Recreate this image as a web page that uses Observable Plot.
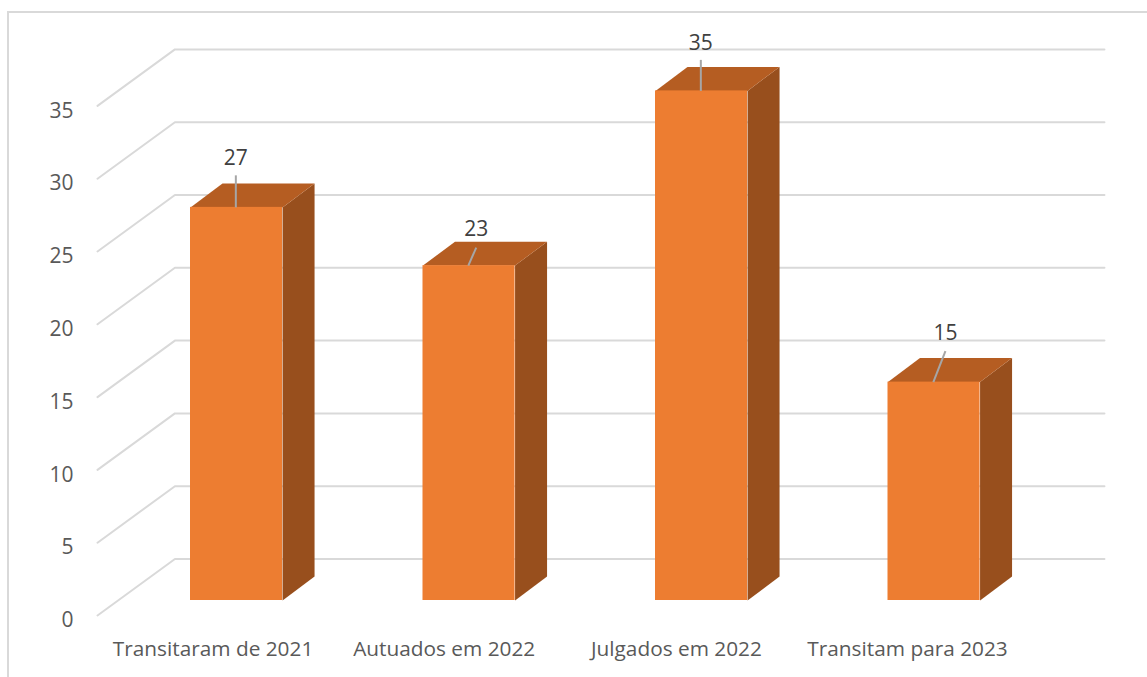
<!DOCTYPE html>
<html>
<head>
<meta charset="utf-8">
<script src="https://cdn.jsdelivr.net/npm/d3@7"></script>
<script src="https://cdn.jsdelivr.net/npm/@observablehq/plot@0.6"></script>
<style>
html,body{margin:0;padding:0;background:#fff;overflow:hidden}
#wrap{position:relative;width:1147px;height:677px}
#border{position:absolute;left:7px;top:11px;right:0;bottom:0;border-top:2px solid #d9d9d9;border-left:2px solid #d9d9d9}
#chart{position:absolute;left:0;top:0}
svg{background:transparent!important}
</style>
</head>
<body>
<div id="wrap"><div id="border"></div><div id="chart"></div></div>
<script>
const categories = ["Transitaram de 2021","Autuados em 2022","Julgados em 2022","Transitam para 2023"];
const values = [27,23,35,15];
const yTicks = [0,5,10,15,20,25,30,35];

// projection of the 3D box, in scale units (category bands, chart values)
const barLeft = 0.4, barRight = 0.796, depthX = 0.1376, depthY = 1.647;
const floorFront = -1.03, floorBack = 2.85, wallStart = 0.333, wallEnd = 4.331;
const leaderBase = 0.595;
const leaderShiftX = [0,0.034,0,0.052], leaderLen = [2.2,1.24,2.13,2.13], labelLift = [3.36,2.47,3.29,3.33];
const categoryOffset = [0.497,0.491,0.49,0.484];

const rows = values.map((v,i)=>({i,v,name:categories[i]}));
const grid = yTicks.flatMap(t=>[
  {t,x:0,y:t+floorFront},{t,x:wallStart,y:t+floorBack},{t,x:wallEnd,y:t+floorBack}
]);
const side = rows.flatMap(d=>{
  const a=d.i+barRight,b=a+depthX;
  return [{i:d.i,x:a,y:0},{i:d.i,x:b,y:depthY},{i:d.i,x:b,y:d.v+depthY},{i:d.i,x:a,y:d.v}];
});
const top_ = rows.flatMap(d=>{
  const l=d.i+barLeft,r=d.i+barRight;
  return [{i:d.i,x:l,y:d.v},{i:d.i,x:r,y:d.v},{i:d.i,x:r+depthX,y:d.v+depthY},{i:d.i,x:l+depthX,y:d.v+depthY}];
});
const font = "'Open Sans', sans-serif";

const chart = Plot.plot({
  width:1147, height:677,
  marginLeft:73, marginRight:0, marginTop:0, marginBottom:37,
  style:{background:"transparent",fontFamily:font},
  x:{type:"linear",domain:[0,4],range:[97,1027],axis:null},
  y:{type:"linear",domain:[0,35],range:[600,600-35*14.56],axis:null},
  marks:[
    Plot.line(grid,{x:"x",y:"y",z:"t",stroke:"#d9d9d9",strokeWidth:2}),
    Plot.line(side,{x:"x",y:"y",z:"i",fill:"#984f1d",stroke:"none"}),
    Plot.line(top_,{x:"x",y:"y",z:"i",fill:"#b55d22",stroke:"none"}),
    Plot.rectY(rows,{x1:d=>d.i+barLeft,x2:d=>d.i+barRight,y1:0,y2:"v",fill:"#ed7d31"}),
    Plot.link(rows,{
      x1:d=>d.i+leaderBase,y1:"v",
      x2:d=>d.i+leaderBase+leaderShiftX[d.i],y2:d=>d.v+leaderLen[d.i],
      stroke:"#a6a6a6",strokeWidth:2
    }),
    Plot.text(rows,{
      x:d=>d.i+leaderBase+leaderShiftX[d.i],y:d=>d.v+labelLift[d.i],
      text:d=>String(d.v),fill:"#404040",fontSize:21
    }),
    Plot.axisY(yTicks,{anchor:"left",label:null,tickSize:0,tickPadding:0,dy:20,fill:"#595959",fontSize:21}),
    Plot.axisX(categories.map((c,i)=>i+categoryOffset[i]),{
      anchor:"bottom",label:null,tickSize:0,tickPadding:0,
      tickFormat:d=>categories[Math.floor(d)],
      fill:"#595959",fontSize:20.8,lineAnchor:"middle",dy:9,tickRotate:0
    })
  ]
});
document.getElementById("chart").appendChild(chart);
</script>
</body>
</html>
